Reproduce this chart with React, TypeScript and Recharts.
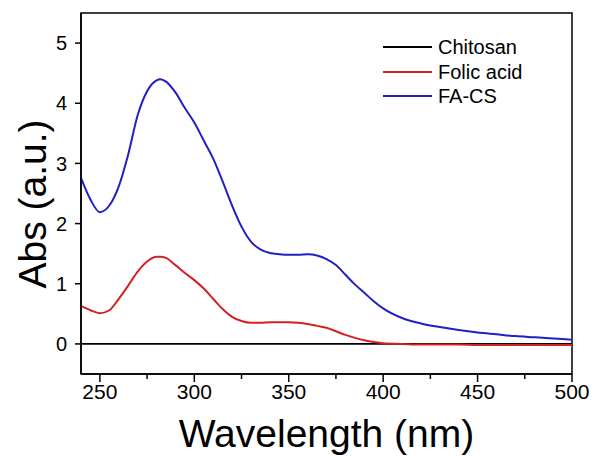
import {
  Legend,
  Line,
  LineChart,
  ReferenceArea,
  XAxis,
  YAxis,
} from "recharts";

// wavelength grid (nm)
const wavelengths = [
  240, 245, 250, 255, 260, 265, 270, 275, 280, 282, 285, 290, 295, 300, 305,
  310, 315, 320, 325, 330, 335, 340, 345, 350, 355, 360, 365, 370, 375, 380,
  385, 390, 395, 400, 410, 420, 430, 440, 450, 460, 470, 480, 490, 500,
];

const chitosan = wavelengths.map(() => 0);

const folicAcid = [
  0.63, 0.56, 0.51, 0.56, 0.75, 0.97, 1.2, 1.37, 1.45, 1.45, 1.43, 1.31, 1.18,
  1.06, 0.92, 0.75, 0.58, 0.45, 0.38, 0.35, 0.35, 0.36, 0.36, 0.36, 0.35, 0.33,
  0.3, 0.27, 0.21, 0.15, 0.1, 0.06, 0.03, 0.01, 0, -0.01, -0.01, -0.01, -0.02,
  -0.02, -0.02, -0.02, -0.02, -0.02,
];

const faCs = [
  2.76, 2.4, 2.19, 2.3, 2.62, 3.15, 3.8, 4.2, 4.38, 4.4, 4.36, 4.18, 3.92, 3.68,
  3.38, 3.08, 2.7, 2.3, 1.95, 1.7, 1.57, 1.51, 1.49, 1.48, 1.48, 1.49, 1.47,
  1.41, 1.31, 1.15, 0.99, 0.85, 0.71, 0.59, 0.43, 0.34, 0.28, 0.23, 0.19, 0.16,
  0.13, 0.11, 0.09, 0.07,
];

const xTicks = [250, 275, 300, 325, 350, 375, 400, 425, 450, 475, 500];
const yTicks = [0, 1, 2, 3, 4, 5];

const data = wavelengths.map((wl, i) => ({
  wl,
  chitosan: chitosan[i],
  folic: folicAcid[i],
  facs: faCs[i],
}));

const FONT = "'Liberation Sans', Arial, sans-serif";

const XTick = (props: any) => {
  const { x, y, payload } = props;
  const major = payload.value % 50 === 0;
  return (
    <g>
      <line x1={x} x2={x} y1={y} y2={y + (major ? 8 : 5)} stroke="#000" strokeWidth={1.5} />
      {major && (
        <text x={x} y={y + 25} textAnchor="middle" fontSize={21} fontFamily={FONT} fill="#000">
          {payload.value}
        </text>
      )}
    </g>
  );
};

const YTick = (props: any) => {
  const { x, y, payload } = props;
  return (
    <g>
      <line x1={x - 6} x2={x} y1={y} y2={y} stroke="#000" strokeWidth={1.5} />
      <text x={x - 14} y={y} dy="0.36em" textAnchor="end" fontSize={20} fontFamily={FONT} fill="#000">
        {payload.value}
      </text>
    </g>
  );
};

const legendItems = [
  { name: "Chitosan", color: "#000000" },
  { name: "Folic acid", color: "#d42222" },
  { name: "FA-CS", color: "#2020c4" },
];

const renderLegend = () => (
  <div style={{ fontFamily: FONT, fontSize: 20, lineHeight: "24.5px", color: "#000" }}>
    {legendItems.map((it) => (
      <div key={it.name} style={{ display: "flex", alignItems: "center", height: 24.5 }}>
        <span
          style={{
            display: "inline-block",
            width: 49,
            height: 0,
            borderTop: `2px solid ${it.color}`,
            marginRight: 6,
          }}
        />
        <span>{it.name}</span>
      </div>
    ))}
  </div>
);

export default function App() {
  return (
    <div style={{ position: "absolute", left: 0, top: 0, background: "#fff" }}>
      <LineChart
        width={595}
        height={456}
        data={data}
        margin={{ top: 13, right: 23, left: 21, bottom: 42 }}
      >
        <ReferenceArea
          x1={240}
          x2={500}
          y1={-0.5}
          y2={5.5}
          fill="none"
          stroke="#000"
          strokeWidth={1.5}
          fillOpacity={0}
        />
        <XAxis
          type="number"
          dataKey="wl"
          domain={[240, 500]}
          ticks={xTicks}
          tick={<XTick />}
          tickLine={false}
          tickSize={0}
          tickMargin={0}
          height={40}
          allowDataOverflow
          axisLine={{ stroke: "#000", strokeWidth: 1.5 }}
          label={{
            content: () => (
              <text x={326.5} y={447} textAnchor="middle" fontSize={39} fontFamily={FONT} fill="#000">
                Wavelength (nm)
              </text>
            ),
          }}
        />
        <YAxis
          type="number"
          domain={[-0.5, 5.5]}
          ticks={yTicks}
          tick={<YTick />}
          tickLine={false}
          tickSize={0}
          tickMargin={0}
          width={60}
          allowDataOverflow
          axisLine={{ stroke: "#000", strokeWidth: 1.5 }}
          label={{
            content: () => (
              <text
                x={46}
                y={204}
                transform="rotate(-90 46 204)"
                textAnchor="middle"
                fontSize={39}
                fontFamily={FONT}
                fill="#000"
              >
                Abs (a.u.)
              </text>
            ),
          }}
        />
        <Legend
          layout="vertical"
          align="center"
          verticalAlign="middle"
          content={renderLegend}
          wrapperStyle={{ left: 383, top: 35, width: 160 }}
        />
        <Line
          type="monotone"
          dataKey="chitosan"
          name="Chitosan"
          stroke="#000000"
          strokeWidth={1.8}
          dot={false}
          isAnimationActive={false}
        />
        <Line
          type="monotone"
          dataKey="folic"
          name="Folic acid"
          stroke="#d42222"
          strokeWidth={2}
          dot={false}
          isAnimationActive={false}
        />
        <Line
          type="monotone"
          dataKey="facs"
          name="FA-CS"
          stroke="#2020c4"
          strokeWidth={2}
          dot={false}
          isAnimationActive={false}
        />
      </LineChart>
    </div>
  );
}
